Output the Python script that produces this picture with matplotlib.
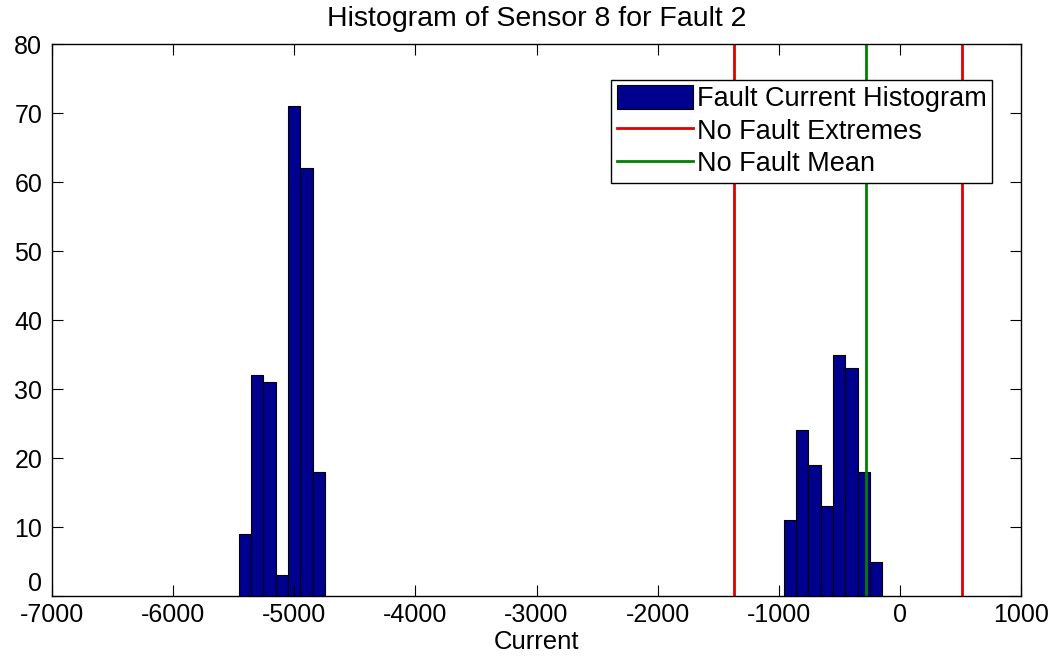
import numpy as np
import matplotlib.pyplot as plt

# histogram bins (left edge of first bin, counts per bin)
bin_width = 102
left_start = -5460
left_counts = [9, 32, 31, 3, 71, 62, 18]
right_start = -960
right_counts = [11, 24, 19, 13, 35, 33, 18, 5]

# no-fault reference lines
extremes = [-1367, 512]
fault_mean = -281

x_ticks = list(range(-7000, 1001, 1000))
y_ticks = list(range(0, 81, 10))

plt.rcParams['font.family'] = ['Liberation Sans', 'DejaVu Sans']
plt.rcParams['axes.unicode_minus'] = False

fig = plt.figure(figsize=(10.55, 6.58), dpi=100)
ax = fig.add_axes([0.0493, 0.0942, 0.9185, 0.8389])

bar_color = '#00008F'
for start, counts in [(left_start, left_counts), (right_start, right_counts)]:
    edges = start + bin_width * np.arange(len(counts))
    bars = ax.bar(edges, counts, width=bin_width, align='edge',
                  color=bar_color, edgecolor='black', linewidth=0.8)
hist_handle = bars

ext_handle = None
for xv in extremes:
    ext_handle = ax.axvline(xv, color='#E00000', linewidth=2)
mean_handle = ax.axvline(fault_mean, color='#008000', linewidth=2)

ax.set_xlim(-7000, 1000)
ax.set_ylim(0, 80)
ax.set_xticks(x_ticks)
ax.set_yticks(y_ticks)
ax.tick_params(direction='in', top=True, right=True, length=8,
               labelsize=18)
ax.tick_params(axis='x', pad=5)
ax.tick_params(axis='y', pad=7)
# the "0" label sits just above the axis, as in the original
ax.get_yticklabels()[0].set_verticalalignment('bottom')
for s in ax.spines.values():
    s.set_linewidth(1.0)

ax.set_title('Histogram of Sensor 8 for Fault 2', fontsize=20.5, pad=13)
ax.set_xlabel('Current', fontsize=18.5, labelpad=2)

leg = ax.legend([hist_handle, ext_handle, mean_handle],
                ['Fault Current Histogram', 'No Fault Extremes', 'No Fault Mean'],
                loc='upper right', bbox_to_anchor=(0.970, 0.935),
                borderaxespad=0, fontsize=19.5, fancybox=False, framealpha=1,
                edgecolor='black', borderpad=0.2, labelspacing=0.2,
                handlelength=2.8, handleheight=0.95, handletextpad=0.15)
leg.get_frame().set_linewidth(1.0)

fig.savefig('out.png', dpi=100)
